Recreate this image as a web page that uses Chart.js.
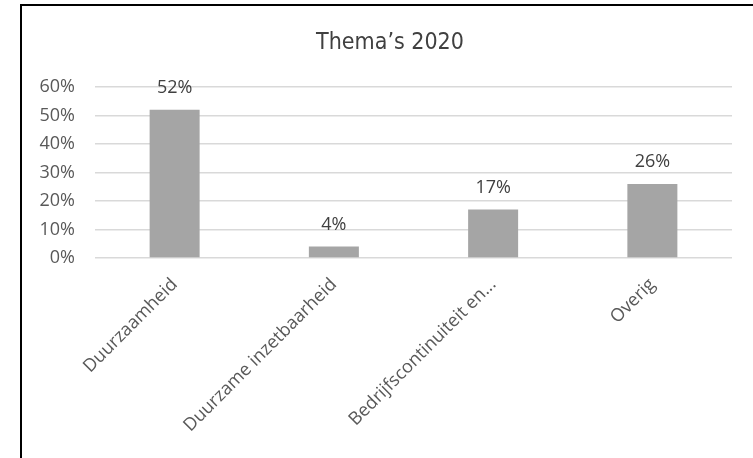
<!DOCTYPE html>
<html>
<head>
<meta charset="utf-8">
<script src="https://cdn.jsdelivr.net/npm/chart.js@4/dist/chart.umd.min.js"></script>
<style>
  html, body { margin: 0; padding: 0; background: #fff; }
  #wrap { width: 753px; height: 458px; }
</style>
</head>
<body>
<div id="wrap"><canvas id="myChart" width="753" height="458"></canvas></div>
<script>
    // thema's en aandeel per thema
    var categories = ['Duurzaamheid', 'Duurzame inzetbaarheid', 'Bedrijfscontinuiteit en...', 'Overig'];
    var values = [0.52, 0.04, 0.17, 0.26];
    var yTicks = [0, 0.1, 0.2, 0.3, 0.4, 0.5, 0.6];
    var titel = 'Thema’s 2020';

    function pct(v) {
        return Math.round(v * 100) + '%';
    }

    // kader (loopt rechts en onder buiten beeld) met de titel gecentreerd erin
    var frameBox = { left: 21, top: 5, right: 759 };
    var frame = {
        id: 'frame',
        beforeDraw: function (chart) {
            var c = chart.ctx;
            c.save();
            c.fillStyle = '#fff';
            c.fillRect(0, 0, chart.width, chart.height);
            c.strokeStyle = '#000';
            c.lineWidth = 2;
            c.beginPath();
            c.moveTo(frameBox.left, chart.height + 5);
            c.lineTo(frameBox.left, frameBox.top);
            c.lineTo(frameBox.right, frameBox.top);
            c.stroke();

            c.font = '23px "DejaVu Sans Condensed", "DejaVu Sans"';
            c.fillStyle = '#404040';
            c.textAlign = 'center';
            c.textBaseline = 'alphabetic';
            c.fillText(titel, (frameBox.left + frameBox.right) / 2, 49);
            c.restore();
        }
    };

    // percentage boven elke staaf
    var barLabels = {
        id: 'barLabels',
        afterDatasetsDraw: function (chart) {
            var c = chart.ctx;
            var meta = chart.getDatasetMeta(0);
            c.save();
            c.font = '18px "Open Sans"';
            c.fillStyle = '#404040';
            c.textAlign = 'center';
            c.textBaseline = 'middle';
            meta.data.forEach(function (bar, i) {
                c.fillText(pct(chart.data.datasets[0].data[i]), bar.x, bar.y - 22);
            });
            c.restore();
        }
    };

    var ctx = document.getElementById('myChart').getContext('2d');
    var myChart = new Chart(ctx, {
        type: 'bar',
        data: {
            labels: categories,
            datasets: [{
                label: titel,
                data: values,
                backgroundColor: '#a5a5a5',
                borderWidth: 0,
                barPercentage: 0.314,
                categoryPercentage: 1
            }]
        },
        options: {
            responsive: false,
            animation: false,
            layout: { padding: { left: 0, right: 21, top: 87, bottom: 0 } },
            plugins: {
                legend: { display: false },
                tooltip: { enabled: false },
                title: { display: false }
            },
            scales: {
                x: {
                    grid: { display: false, drawTicks: false },
                    border: { display: false },
                    ticks: {
                        color: '#595959',
                        font: { family: '"Open Sans"', size: 18 },
                        minRotation: 45,
                        maxRotation: 45,
                        autoSkip: false,
                        padding: 16
                    },
                    afterFit: function (scale) { scale.height = 200; }
                },
                y: {
                    min: 0,
                    max: 0.6,
                    afterBuildTicks: function (scale) {
                        scale.ticks = yTicks.map(function (v) { return { value: v }; });
                    },
                    grid: { color: '#d9d9d9', lineWidth: 1.5, drawTicks: false },
                    border: { display: false },
                    ticks: {
                        color: '#595959',
                        font: { family: '"Open Sans"', size: 18 },
                        padding: 20,
                        callback: function (v) { return pct(v); }
                    },
                    afterFit: function (scale) { scale.width = 95; }
                }
            }
        },
        plugins: [frame, barLabels]
    });
</script>
</body>
</html>
